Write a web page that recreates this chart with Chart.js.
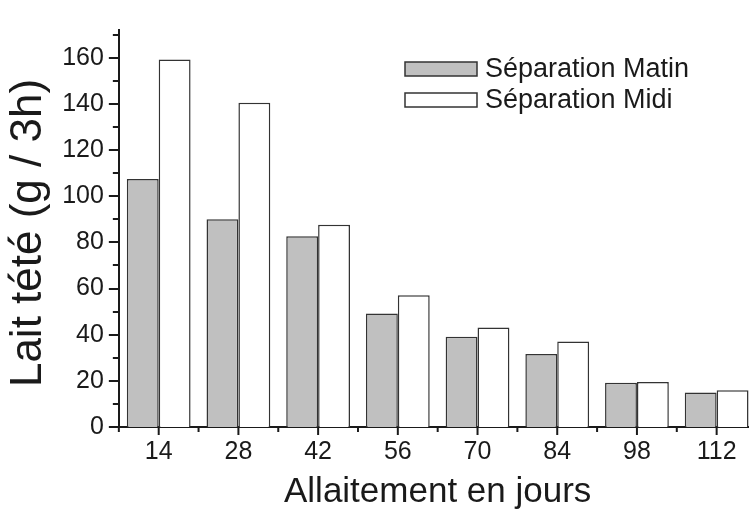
<!DOCTYPE html>
<html>
<head>
<meta charset="utf-8">
<script src="https://cdn.jsdelivr.net/npm/chart.js@4/dist/chart.umd.min.js"></script>
<style>
  html, body { margin: 0; padding: 0; background: #fff; overflow: hidden; width: 749px; height: 513px; }
  canvas { display: block; }
</style>
</head>
<body>
<canvas id="c" width="770" height="513" style="width:770px;height:513px"></canvas>
<script>
// Lactation day (categories) and suckled milk per 3 h, g
const days = ['14', '28', '42', '56', '70', '84', '98', '112'];
const matin = [107.5, 90, 82.6, 49.2, 39.1, 31.6, 19.2, 15.0];
const midi = [159.2, 140.5, 87.6, 57.1, 43.1, 37.0, 19.5, 15.9];
const seriesNames = ['Séparation Matin', 'Séparation Midi'];
const yTitle = 'Lait tété (g / 3h)';
const xTitle = 'Allaitement en jours';
const yMax = 172;
const yStep = 20;
const yMinorStep = 10;

const FONT = "'Liberation Sans', Arial, sans-serif";
const INK = '#1a1a1a';
const EDGE = '#333333';

// Tick marks: major at labels, minor in between (drawn outward from the axes)
const tickMarks = {
  id: 'tickMarks',
  afterDraw(chart) {
    const { ctx, scales: { x, y }, chartArea } = chart;
    ctx.save();
    ctx.strokeStyle = INK;
    ctx.lineWidth = 2;
    const ax = chartArea.left;
    const ay = chartArea.bottom;
    for (let v = 0; v <= yMax; v += yMinorStep) {
      const py = Math.round(y.getPixelForValue(v));
      const major = v % yStep === 0;
      ctx.beginPath();
      ctx.moveTo(ax - (major ? 10 : 6), py);
      ctx.lineTo(ax, py);
      ctx.stroke();
    }
    ctx.beginPath();
    ctx.moveTo(ax, ay);
    ctx.lineTo(ax, ay + 5);
    ctx.stroke();
    days.forEach((d, i) => {
      const px = x.getPixelForValue(i);
      ctx.beginPath();
      ctx.moveTo(px, ay);
      ctx.lineTo(px, ay + 8);
      ctx.stroke();
      if (i < days.length - 1) {
        const pm = (x.getPixelForValue(i) + x.getPixelForValue(i + 1)) / 2;
        ctx.beginPath();
        ctx.moveTo(pm, ay);
        ctx.lineTo(pm, ay + 5);
        ctx.stroke();
      }
    });
    ctx.restore();
  }
};

// Vertical axis title, set a little below the plot's mid-height
const yAxisTitle = {
  id: 'yAxisTitle',
  afterDraw(chart) {
    const { ctx } = chart;
    ctx.save();
    ctx.translate(29, 233);
    ctx.rotate(-Math.PI / 2);
    ctx.fillStyle = INK;
    ctx.font = '44px ' + FONT;
    ctx.textAlign = 'center';
    ctx.textBaseline = 'middle';
    ctx.fillText(yTitle, 0, 0);
    ctx.restore();
  }
};

// Legend inside the plot area, top right
const boxLegend = {
  id: 'boxLegend',
  afterDraw(chart) {
    const { ctx } = chart;
    ctx.save();
    const bx = 405, bw = 72, bh = 14;
    const rows = [62, 93];
    chart.data.datasets.forEach((ds, i) => {
      const by = rows[i];
      ctx.fillStyle = ds.backgroundColor;
      ctx.fillRect(bx, by, bw, bh);
      ctx.strokeStyle = EDGE;
      ctx.lineWidth = 1.5;
      ctx.strokeRect(bx, by, bw, bh);
      ctx.fillStyle = INK;
      ctx.font = '27px ' + FONT;
      ctx.textBaseline = 'middle';
      ctx.textAlign = 'left';
      ctx.fillText(ds.label, bx + 80, by + bh / 2 + 1);
    });
    ctx.restore();
  }
};

new Chart(document.getElementById('c'), {
  type: 'bar',
  data: {
    labels: days,
    datasets: [
      { label: seriesNames[0], data: matin, backgroundColor: '#c0c0c0', borderColor: EDGE, borderWidth: 1.5 },
      { label: seriesNames[1], data: midi, backgroundColor: '#ffffff', borderColor: EDGE, borderWidth: 1.5 }
    ]
  },
  options: {
    responsive: false,
    animation: false,
    devicePixelRatio: 1,
    layout: { padding: { top: 10, right: 13.5, left: 0, bottom: 0 } },
    datasets: { bar: { categoryPercentage: 0.8, barPercentage: 1.0 } },
    plugins: { legend: { display: false }, tooltip: { enabled: false } },
    scales: {
      x: {
        offset: true,
        grid: { display: false, drawTicks: false },
        border: { display: true, color: INK, width: 2 },
        ticks: { color: INK, font: { family: FONT, size: 25 }, padding: 10, maxRotation: 0 },
        title: {
          display: true, text: xTitle, color: INK,
          font: { family: FONT, size: 35, lineHeight: 1 }, padding: { top: 0, bottom: 3 }
        },
        afterFit(s) { s.height = 86; }
      },
      y: {
        min: 0, max: yMax,
        grid: { display: false, drawTicks: false },
        border: { display: true, color: INK, width: 2 },
        ticks: { stepSize: yStep, includeBounds: false, color: INK, font: { family: FONT, size: 25 }, padding: 15 },
        title: { display: false },
        afterFit(s) { s.width = 118.85; }
      }
    }
  },
  plugins: [tickMarks, yAxisTitle, boxLegend]
});
</script>
</body>
</html>
